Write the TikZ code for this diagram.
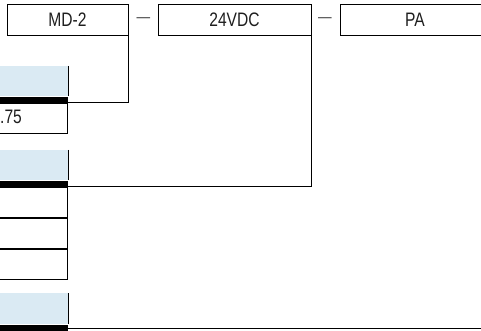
\documentclass[tikz,border=0pt]{standalone}
\usepackage{fontspec}
\setmainfont{Liberation Sans}[FakeStretch=0.8]
\definecolor{headblue}{RGB}{218,234,243}
\definecolor{inkgray}{RGB}{30,30,30}
\tikzset{codebox/.style={draw,line width=.9pt,minimum height=31,inner sep=0pt,text=inkgray,font=\fontsize{19.5}{21}\selectfont},sepdash/.style={inner sep=0pt,text=black!70,font=\fontsize{17}{20}\selectfont},hdr/.style={fill=headblue,minimum width=80,minimum height=30,inner sep=0pt,anchor=north east},bar/.style={fill=black,minimum width=80,minimum height=6,inner sep=0pt,anchor=north east},rowcell/.style={draw,line width=.9pt,minimum width=80,minimum height=30,inner sep=0pt,anchor=north east},link/.style={line width=.9pt}}

\begin{document}
\begin{tikzpicture}[x=1pt,y=-1pt]
\clip (0,0) rectangle (481,331);
\node[codebox,minimum width=121] (md) at (67.5,19.5) {MD-2};
\node[sepdash] (sepA) at (143.5,20) {---};
\node[codebox,minimum width=153] (vdc) at (234.5,19.5) {24VDC};
\node[sepdash] (sepB) at (325,20) {---};
\node[codebox,minimum width=150] (pa) at (415,19.5) {PA};
\node[hdr] (hdrA) at (68,66) {};
\node[bar] (barA) at (hdrA.south east) {};
\node[rowcell] (rowA) at (barA.south east) {};
\node[anchor=west,inner sep=0pt,text=inkgray,font=\fontsize{19.5}{21}\selectfont] (valA) at (0,117) {.75};
\draw[link] (hdrA.north east) -- (hdrA.south east);
\node[hdr] (hdrB) at (68,150) {};
\node[bar] (barB) at (hdrB.south east) {};
\node[rowcell] (rowB1) at (barB.south east) {};
\node[rowcell] (rowB2) at (rowB1.south east) {};
\node[rowcell] (rowB3) at (rowB2.south east) {};
\draw[link] (hdrB.north east) -- (hdrB.south east);
\node[hdr,minimum height=31] (hdrC) at (68,293) {};
\node[bar,minimum height=7] (barC) at (hdrC.south east) {};
\draw[link] (hdrC.north east) -- (hdrC.south east);
\coordinate (endC) at (481,328.8);
\draw[link] (md.south east) |- (barA.south east);
\draw[link] (vdc.south east) |- (barB.south east);
\draw[link] (barC.east |- endC) -- (endC);
\end{tikzpicture}
\end{document}
